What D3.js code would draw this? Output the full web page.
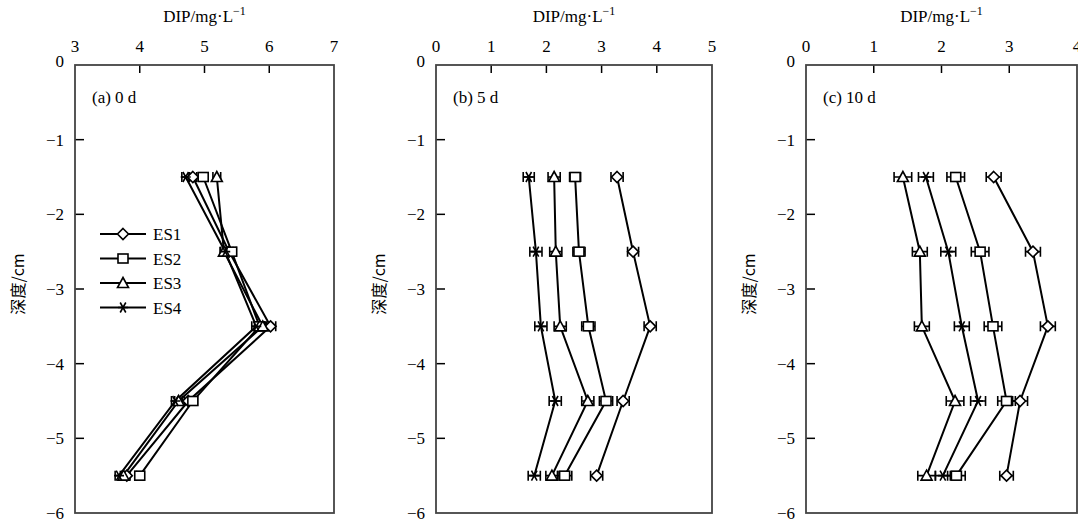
<!DOCTYPE html>
<html>
<head>
<meta charset="utf-8">
<script src="https://cdn.jsdelivr.net/npm/d3@7"></script>
<style>
  body { margin: 0; background: #fff; }
  text { font-family: "Liberation Serif", "Times New Roman", serif; fill: #000; }
  .cjk { font-family: "Noto Sans CJK SC", sans-serif; }
</style>
</head>
<body>
<svg id="chart" width="1078" height="522"></svg>
<script>
// depth of each sampling layer (cm)
const depths = [-1.5, -2.5, -3.5, -4.5, -5.5];
const seriesNames = ["ES1", "ES2", "ES3", "ES4"];
const depthTicks = [0, -1, -2, -3, -4, -5, -6];

// DIP values, one row per series (ES1..ES4), one value per depth
const day0 = [
    [4.82, 5.38, 6.02, 4.75, 3.80],
    [4.98, 5.42, 5.85, 4.82, 4.00],
    [5.19, 5.30, 5.90, 4.60, 3.75],
    [4.71, 5.32, 5.80, 4.55, 3.68]
];
const day0Err = [
    [0.06, 0.06, 0.08, 0.06, 0.05],
    [0.07, 0.07, 0.07, 0.07, 0.05],
    [0.06, 0.06, 0.06, 0.06, 0.05],
    [0.06, 0.07, 0.07, 0.06, 0.06]
];
const day5 = [
    [3.28, 3.57, 3.88, 3.39, 2.91],
    [2.52, 2.59, 2.76, 3.08, 2.33],
    [2.14, 2.17, 2.25, 2.75, 2.10],
    [1.68, 1.81, 1.90, 2.16, 1.78]
];
const day5Err = [
    [0.11, 0.1, 0.11, 0.11, 0.11],
    [0.1, 0.11, 0.12, 0.12, 0.13],
    [0.11, 0.11, 0.11, 0.11, 0.11],
    [0.1, 0.11, 0.11, 0.11, 0.11]
];
const day10 = [
    [2.77, 3.35, 3.57, 3.16, 2.96],
    [2.21, 2.57, 2.76, 2.96, 2.22],
    [1.43, 1.68, 1.71, 2.20, 1.78],
    [1.77, 2.10, 2.30, 2.54, 2.02]
];
const day10Err = [
    [0.11, 0.11, 0.11, 0.11, 0.1],
    [0.13, 0.13, 0.13, 0.13, 0.13],
    [0.13, 0.11, 0.11, 0.13, 0.13],
    [0.11, 0.11, 0.11, 0.11, 0.11]
];

const xTicks0 = [3, 4, 5, 6, 7];
const xTicks5 = [0, 1, 2, 3, 4, 5];
const xTicks10 = [0, 1, 2, 3, 4];

const panels = [
    { left: 75, right: 334, domain: [3, 7], ticks: xTicks0, data: day0, err: day0Err, label: "(a) 0 d", legend: true },
    { left: 436, right: 712, domain: [0, 5], ticks: xTicks5, data: day5, err: day5Err, label: "(b) 5 d" },
    { left: 806, right: 1077, domain: [0, 4], ticks: xTicks10, data: day10, err: day10Err, label: "(c) 10 d" }
];

const plotTop = 65, plotBottom = 513;
const svg = d3.select("#chart");
const y = d3.scaleLinear().domain([0, -6]).range([plotTop, plotBottom]);
const minus = s => String(s).replace("-", "\u2212");

// marker shapes, white filled
function drawMarker(g, kind, cx, cy) {
    const m = g.append("g").attr("transform", "translate(" + cx + "," + cy + ")");
    if (kind === 0) {
        m.append("path").attr("d", "M0,-5.5L5.5,0L0,5.5L-5.5,0Z");
    } else if (kind === 1) {
        m.append("rect").attr("x", -5).attr("y", -4.5).attr("width", 10).attr("height", 9);
    } else if (kind === 2) {
        m.append("path").attr("d", "M0,-5.5L5.5,4.5L-5.5,4.5Z");
    } else {
        m.append("path").attr("d", "M-5,0H5M-2.8,-5L2.8,5M2.8,-5L-2.8,5");
    }
    m.selectAll("*").attr("fill", "#fff").attr("stroke", "#000").attr("stroke-width", 1.6);
}

panels.forEach(p => {
    const x = d3.scaleLinear().domain(p.domain).range([p.left, p.right]);
    const g = svg.append("g");

    // ticks inside frame
    g.append("g").selectAll("line").data(p.ticks.slice(1, -1)).join("line")
        .attr("x1", d => x(d)).attr("x2", d => x(d))
        .attr("y1", plotTop).attr("y2", plotTop + 8)
        .attr("stroke", "#000").attr("stroke-width", 1.5);
    g.append("g").selectAll("line").data(depthTicks.slice(1, -1)).join("line")
        .attr("x1", p.left).attr("x2", p.left + 9)
        .attr("y1", d => y(d)).attr("y2", d => y(d))
        .attr("stroke", "#000").attr("stroke-width", 1.5);

    // tick labels
    g.append("g").selectAll("text").data(p.ticks).join("text")
        .attr("x", d => x(d)).attr("y", 52)
        .attr("text-anchor", "middle").attr("font-size", 17)
        .text(d => d);
    g.append("g").selectAll("text").data(depthTicks).join("text")
        .attr("x", p.left - 11).attr("y", d => y(d) + (d === 0 ? 2 : 6))
        .attr("text-anchor", "end").attr("font-size", 17)
        .text(d => minus(d));

    // axis titles
    const t = g.append("text")
        .attr("x", (p.left + p.right) / 2).attr("y", 22)
        .attr("text-anchor", "middle").attr("font-size", 17)
        .text("DIP/mg\u00b7L");
    t.append("tspan").attr("font-size", 12).attr("dy", -7).text("\u22121");

    g.append("text").attr("class", "cjk")
        .attr("transform", "translate(" + (p.left - 51) + "," + 284 + ") rotate(-90)")
        .attr("text-anchor", "middle").attr("font-size", 16)
        .text("深度/cm");

    g.append("text").attr("x", p.left + 17).attr("y", 103)
        .attr("font-size", 17).text(p.label);

    // series lines
    const line = d3.line().x(d => x(d[0])).y(d => y(d[1]));
    p.data.forEach((vals, si) => {
        g.append("path")
            .datum(vals.map((v, i) => [v, depths[i]]))
            .attr("d", line)
            .attr("fill", "none").attr("stroke", "#000").attr("stroke-width", 2);
    });

    // error bars then markers
    p.data.forEach((vals, si) => {
        vals.forEach((v, i) => {
            const e = p.err[si][i], cy = y(depths[i]);
            g.append("path")
                .attr("d", "M" + x(v - e) + "," + cy + "H" + x(v + e) +
                    "M" + x(v - e) + "," + (cy - 5) + "V" + (cy + 5) +
                    "M" + x(v + e) + "," + (cy - 5) + "V" + (cy + 5))
                .attr("stroke", "#000").attr("stroke-width", 1.6).attr("fill", "none");
        });
    });
    p.data.forEach((vals, si) => {
        vals.forEach((v, i) => drawMarker(g, si, x(v), y(depths[i])));
    });

    // frame
    g.append("rect")
        .attr("x", p.left).attr("y", plotTop)
        .attr("width", p.right - p.left).attr("height", plotBottom - plotTop)
        .attr("fill", "none").attr("stroke", "#444").attr("stroke-width", 1.8);

    if (p.legend) {
        const lg = g.append("g");
        seriesNames.forEach((name, i) => {
            const ly = 234 + i * 24.5;
            lg.append("line").attr("x1", 100).attr("x2", 146).attr("y1", ly).attr("y2", ly)
                .attr("stroke", "#000").attr("stroke-width", 2);
            drawMarker(lg, i, 123, ly);
            lg.append("text").attr("x", 153).attr("y", ly + 6).attr("font-size", 17).text(name);
        });
    }
});
</script>
</body>
</html>
